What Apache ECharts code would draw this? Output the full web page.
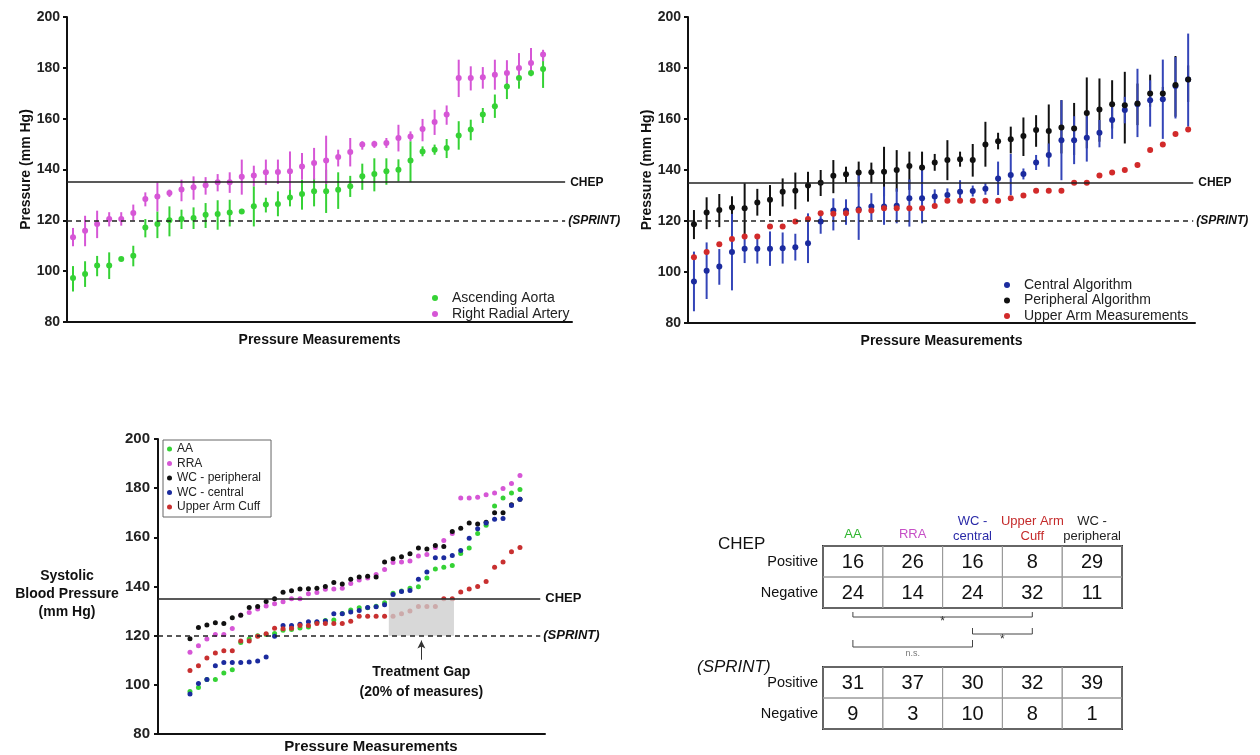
<!DOCTYPE html>
<html><head><meta charset="utf-8">
<script src="https://cdn.jsdelivr.net/npm/echarts@6/dist/echarts.min.js"></script>
<style>html,body{margin:0;padding:0;background:#fff}#c{width:1260px;height:755px}</style>
</head><body><div id="c"></div>
<script>
// ---------- data (systolic pressure, mm Hg; 40 sorted measurements) ----------
const aaMean  = [97.3,98.9,102.2,102.2,104.8,106.1,117.2,118.6,120,120.5,120.9,122.2,122.5,123.1,123.5,125.5,126.2,126.4,129,130.4,131.4,131.4,132,133.4,137.3,138.2,139.3,139.9,143.5,147.1,147.8,148.5,153.4,155.7,161.6,164.9,172.7,176,178,179.5];
const aaLow   = [92,93.8,98,96.9,104,101.9,113.3,113,113.7,116.6,116.6,117,116.3,117.6,122.5,117.6,123.1,121.6,125.5,124.2,125.5,122.9,124.5,129.2,132,131.4,134,135.3,135,145.2,145.8,144.5,147.8,151.5,158.3,160.3,167.7,171.8,176.7,172.1];
const aaHigh  = [102,103.9,106,107.4,105.6,110,120.5,123.5,125.5,124.2,125.1,126.8,127.9,128.1,124.5,133.4,128.9,131.4,132.3,136,136.7,139.9,138.9,137.5,142.3,144.4,144.4,144,151.1,149.1,149.8,152,159,159.6,164.2,169.5,177.3,179.3,179.3,185.8];

const rraMean = [113.3,115.9,118.6,120.5,120.5,122.9,128.4,129.4,130.8,132.1,133,133.8,135,135,137.1,137.6,138.9,139,139.3,141.2,142.6,143.5,144.9,146.9,149.8,150,150.4,152.4,153,155.9,158.7,161.6,176,176,176.3,177.3,178,179.9,181.9,185.2];
const rraLow  = [109.8,109.8,113,117.6,117.9,120,125.5,123.5,129.2,127.5,128.1,130.1,131.4,130.8,130.1,133.4,134,134.3,132,136,136,134.3,141.2,141.2,147.8,148.5,148.5,147.1,151.1,151.1,153.6,157.6,168.5,171.1,171.8,171.4,173.8,174.7,177.3,182.6];
const rraHigh = [117,121.8,123.8,123.2,123.2,126.2,131,134.9,132.1,136,137.3,137,138.2,138.9,143.9,141.5,143.9,143.9,147.1,146.5,148.5,153.3,147.8,152.4,151.1,151.3,152.4,157.6,155,159.9,163.5,165.2,183.2,180.6,180.3,183.2,183,185.8,187.8,187.1];

const cenMean = [96.3,100.5,102.2,107.8,109.1,109.1,109.1,109.3,109.7,111.3,119.8,124.1,124.1,124.6,125.7,125.7,126,128.9,128.9,129.6,130.2,131.5,131.8,132.6,136.7,138,138.4,142.9,145.9,151.7,151.7,152.6,154.6,159.6,163.5,165.8,167.4,167.7,172.9,175.5];
const cenLow  = [84.6,89.4,95,92.8,103.5,103.3,102.4,103.3,104.5,103.5,115,116.3,118.5,112.6,120.4,118.5,119.1,117.8,119.1,126.7,127.6,127.6,129.6,130.3,130.2,130.2,136.3,140,141.3,136,142.3,143.3,148.9,152.2,158.3,152.9,157,152.2,160.2,157];
const cenHigh = [108,111.6,109,122.8,113.9,113.9,115.9,115.5,115,123,123,128.9,128.5,138,130.9,133.5,132.8,136.3,139.9,132.4,132.8,136,133.9,134.8,143.3,146.3,140.6,145.9,150.4,167.4,161.1,161.1,159.6,164.8,168.7,179.7,175.2,183.3,184.3,193.5];

const perMean = [118.7,123.3,124.3,125.3,125,127.3,128.3,131.5,131.9,133.9,135,137.7,138.3,139,139.1,139.3,140,141.6,141,142.9,143.9,144.2,143.9,150,151.3,152.1,153.3,155.7,155.3,156.7,156.3,162.4,163.7,165.8,165.4,166.1,170,170,173.3,175.5];
const perLow  = [112.9,116.8,117.6,119.1,113.3,122.1,122,125.7,124.6,127.6,129.8,130.9,135,133.5,134.8,129.6,131.5,132.2,134.8,139.7,136,141.3,137.4,141.3,148.1,146.5,145.5,149.1,145.2,146.5,145.9,148.5,151.1,156.3,150.4,157.6,164.8,166.7,160.9,166.7];
const perHigh = [124.3,129.3,130.6,129.7,134.8,132.6,134.1,136.7,139,139.3,140,143.9,141.3,143.3,142.9,149.1,147.8,147.2,147.2,146.3,151.7,147.2,150.2,158.9,154.6,157,160.6,161.5,165.7,167.4,166.3,176.3,175.9,175.2,178.5,173.9,177.4,172.6,184.7,181];

const cuffMean = [105.8,107.8,110.9,112.9,113.9,113.9,117.8,117.8,119.8,120.8,123,122.8,123,124.1,124.1,125,125,125,125,125.9,127.9,127.9,127.9,127.9,127.9,128.9,130,131.9,131.9,131.9,135,135,137.8,139,140,142,147.8,150,154.1,155.9];

// thresholds
const chepLevel = 135;
const sprintLevel = 120;
const yTicks = [80, 200, 20]; // min, max, interval
const gapRange = [23.5, 31.2];   // measurement-index span of the treatment gap box

// tables
const tableCols = ['AA', 'RRA', 'WC -\ncentral', 'Upper Arm\nCuff', 'WC -\nperipheral'];
const tableRows = ['Positive', 'Negative'];
const chepPositive = [16, 26, 16, 8, 29];
const chepNegative = [24, 14, 24, 32, 11];
const sprintPositive = [31, 37, 30, 32, 39];
const sprintNegative = [9, 3, 10, 8, 1];
const brackets = [ {from: 0, to: 3, text: '*'}, {from: 2, to: 3, text: '*'}, {from: 0, to: 2, text: 'n.s.'} ];

// ---------- styling ----------
const FF = '"Liberation Sans", Arial, sans-serif';
const C = { aa: '#35d235', rra: '#d656d6', cen: '#1b2b9e', cenBar: '#3445b8', per: '#111111', cuff: '#d22a2a' };
const hdrColors = ['#2db52d', '#c64fc6', '#2a2aa8', '#c42a2a', '#222222'];

const pts = arr => arr.map((v, i) => [i, v]);
const bars = (lo, hi) => lo.map((v, i) => [i, v, hi[i]]);
function errBar(color) {
  return function (params, api) {
    const x = api.value(0);
    const a = api.coord([x, api.value(1)]);
    const b = api.coord([x, api.value(2)]);
    return { type: 'line', shape: { x1: a[0], y1: a[1], x2: b[0], y2: b[1] }, style: { stroke: color, lineWidth: 2 } };
  };
}
function cellRender(params, api) {
  const c = api.coord([api.value(0), api.value(1)]);
  const s = api.size([1, 1]);
  return { type: 'group', children: [
    { type: 'rect', shape: { x: c[0] - s[0] / 2, y: c[1] - s[1] / 2, width: s[0], height: s[1] }, style: { fill: null, stroke: '#9a9a9a', lineWidth: 1 } },
    { type: 'text', style: { text: String(api.value(2)), x: c[0], y: c[1] + 1, textAlign: 'center', textVerticalAlign: 'middle', fontSize: 20, fontFamily: FF, fill: '#111' } }
  ]};
}
function cells(pos, neg) {
  const d = [];
  pos.forEach((v, i) => d.push([i, 0, v]));
  neg.forEach((v, i) => d.push([i, 1, v]));
  return d;
}

function refLines(xMin, xEnd, fs) {
  return {
    silent: true, symbol: 'none', animation: false,
    data: [
      [{ coord: [xMin, chepLevel], lineStyle: { color: '#222', width: 1.5, type: 'solid' },
         label: { show: true, position: 'end', formatter: 'CHEP', fontWeight: 'bold', fontSize: fs, color: '#111', fontFamily: FF, distance: 5 } },
       { coord: [xEnd, chepLevel] }],
      [{ coord: [xMin, sprintLevel], lineStyle: { color: '#222', width: 1.5, type: [5, 4] },
         label: { show: true, position: 'end', formatter: '(SPRINT)', fontWeight: 'bold', fontStyle: 'italic', fontSize: fs, color: '#111', fontFamily: FF, distance: 3 } },
       { coord: [xEnd, sprintLevel] }]
    ]
  };
}

function yAx(gi, fs, margin, withName) {
  const o = {
    type: 'value', gridIndex: gi, min: yTicks[0], max: yTicks[1], interval: yTicks[2],
    splitLine: { show: false },
    axisLine: { show: true, onZero: false, lineStyle: { color: '#111', width: 2 } },
    axisTick: { show: true, length: 4, lineStyle: { color: '#111', width: 2 } },
    axisLabel: { fontWeight: 'bold', fontSize: fs, color: '#222', fontFamily: FF, margin: margin }
  };
  if (withName) {
    o.name = 'Pressure (mm Hg)'; o.nameLocation = 'middle'; o.nameGap = 34;
    o.nameTextStyle = { fontWeight: 'bold', fontSize: 14, color: '#111', fontFamily: FF };
  }
  return o;
}
function xAx(gi, min, max, name) {
  return {
    type: 'value', gridIndex: gi, min: min, max: max,
    splitLine: { show: false }, axisTick: { show: false }, axisLabel: { show: false },
    axisLine: { show: true, onZero: false, lineStyle: { color: '#111', width: 2 } },
    name: name, nameLocation: 'middle', nameGap: 11,
    nameTextStyle: { fontWeight: 'bold', fontSize: 14, color: '#111', fontFamily: FF, verticalAlign: 'top' }
  };
}

const chart = echarts.init(document.getElementById('c'), null, { renderer: 'canvas' });

const option = {
  backgroundColor: '#fff',
  animation: false,
  textStyle: { fontFamily: FF },
  grid: [
    { left: 67, top: 17, width: 505, height: 305 },
    { left: 688, top: 17, width: 507, height: 306 },
    { left: 158, top: 439, width: 387, height: 295 },
    { left: 823, top: 546, width: 299, height: 62, show: true, borderColor: '#333', borderWidth: 2 },
    { left: 823, top: 667, width: 299, height: 62, show: true, borderColor: '#333', borderWidth: 2 }
  ],
  xAxis: [
    xAx(0, -0.5, 41.4, 'Pressure Measurements'),
    xAx(1, -0.47, 39.54, 'Pressure Measurements'),
    xAx(2, -3.78, 41.96, ''),
    { type: 'category', gridIndex: 3, position: 'top', data: tableCols,
      axisLine: { show: false }, axisTick: { show: false }, splitLine: { show: false },
      axisLabel: { margin: 2, interval: 0,
        formatter: (v, i) => v.split('\n').map(s => '{h' + i + '|' + s + '}').join('\n'),
        rich: {
          h0: { color: hdrColors[0], fontSize: 13, lineHeight: 15, fontFamily: FF, padding: [0, 0, 4, 0] },
          h1: { color: hdrColors[1], fontSize: 13, lineHeight: 15, fontFamily: FF, padding: [0, 0, 4, 0] },
          h2: { color: hdrColors[2], fontSize: 13, lineHeight: 15, fontFamily: FF },
          h3: { color: hdrColors[3], fontSize: 13, lineHeight: 15, fontFamily: FF },
          h4: { color: hdrColors[4], fontSize: 13, lineHeight: 15, fontFamily: FF }
        } } },
    { type: 'category', gridIndex: 4, data: tableCols, show: false }
  ],
  yAxis: [
    yAx(0, 14, 7, true),
    yAx(1, 14, 7, true),
    yAx(2, 15, 8, false),
    { type: 'category', gridIndex: 3, data: tableRows, inverse: true,
      axisLine: { show: false }, axisTick: { show: false }, splitLine: { show: false },
      axisLabel: { fontSize: 14.5, color: '#111', fontFamily: FF, margin: 5 } },
    { type: 'category', gridIndex: 4, data: tableRows, inverse: true,
      axisLine: { show: false }, axisTick: { show: false }, splitLine: { show: false },
      axisLabel: { fontSize: 14.5, color: '#111', fontFamily: FF, margin: 5 } }
  ],
  legend: [
    { orient: 'vertical', left: 427, top: 286, itemGap: 2, itemWidth: 24, itemHeight: 6, icon: 'circle',
      textStyle: { fontSize: 14, color: '#222', fontFamily: FF }, data: ['Ascending Aorta', 'Right Radial Artery'] },
    { orient: 'vertical', left: 999, top: 273, itemGap: 1.5, itemWidth: 24, itemHeight: 6, icon: 'circle',
      textStyle: { fontSize: 14, color: '#222', fontFamily: FF }, data: ['Central Algorithm', 'Peripheral Algorithm', 'Upper Arm Measurements'] },
    { orient: 'vertical', left: 163, top: 440, itemGap: 2.5, itemWidth: 5, itemHeight: 5, icon: 'circle',
      padding: [3, 10, 4, 4], borderColor: '#666', borderWidth: 1,
      textStyle: { fontSize: 12, color: '#222', fontFamily: FF }, data: ['AA', 'RRA', 'WC - peripheral', 'WC - central', 'Upper Arm Cuff'] }
  ],
  series: [
    // ---- top-left ----
    { type: 'custom', name: 'aaErr', xAxisIndex: 0, yAxisIndex: 0, renderItem: errBar(C.aa), data: bars(aaLow, aaHigh), encode: { x: 0, y: [1, 2] }, silent: true, z: 1 },
    { type: 'custom', name: 'rraErr', xAxisIndex: 0, yAxisIndex: 0, renderItem: errBar(C.rra), data: bars(rraLow, rraHigh), encode: { x: 0, y: [1, 2] }, silent: true, z: 1 },
    { type: 'scatter', name: 'Ascending Aorta', xAxisIndex: 0, yAxisIndex: 0, symbolSize: 6, itemStyle: { color: C.aa, opacity: 1 }, data: pts(aaMean),
      markLine: refLines(-0.5, 40.83, 12) },
    { type: 'scatter', name: 'Right Radial Artery', xAxisIndex: 0, yAxisIndex: 0, symbolSize: 6, itemStyle: { color: C.rra, opacity: 1 }, data: pts(rraMean) },
    // ---- top-right ----
    { type: 'custom', name: 'perErr', xAxisIndex: 1, yAxisIndex: 1, renderItem: errBar(C.per), data: bars(perLow, perHigh), encode: { x: 0, y: [1, 2] }, silent: true, z: 1 },
    { type: 'custom', name: 'cenErr', xAxisIndex: 1, yAxisIndex: 1, renderItem: errBar(C.cenBar), data: bars(cenLow, cenHigh), encode: { x: 0, y: [1, 2] }, silent: true, z: 1 },
    { type: 'scatter', name: 'Central Algorithm', xAxisIndex: 1, yAxisIndex: 1, symbolSize: 6, itemStyle: { color: C.cen, opacity: 1 }, data: pts(cenMean) },
    { type: 'scatter', name: 'Peripheral Algorithm', xAxisIndex: 1, yAxisIndex: 1, symbolSize: 6, itemStyle: { color: C.per, opacity: 1 }, data: pts(perMean) },
    { type: 'scatter', name: 'Upper Arm Measurements', xAxisIndex: 1, yAxisIndex: 1, symbolSize: 6, itemStyle: { color: C.cuff, opacity: 1 }, data: pts(cuffMean),
      markLine: refLines(-0.47, 39.4, 12) },
    // ---- bottom-left combined ----
    { type: 'scatter', name: 'AA', xAxisIndex: 2, yAxisIndex: 2, symbolSize: 5, itemStyle: { color: C.aa, opacity: 1 }, data: pts(aaMean) },
    { type: 'scatter', name: 'RRA', xAxisIndex: 2, yAxisIndex: 2, symbolSize: 5, itemStyle: { color: C.rra, opacity: 1 }, data: pts(rraMean) },
    { type: 'scatter', name: 'WC - peripheral', xAxisIndex: 2, yAxisIndex: 2, symbolSize: 5, itemStyle: { color: C.per, opacity: 1 }, data: pts(perMean) },
    { type: 'scatter', name: 'WC - central', xAxisIndex: 2, yAxisIndex: 2, symbolSize: 5, itemStyle: { color: C.cen, opacity: 1 }, data: pts(cenMean),
      markLine: { silent: true, animation: false, symbol: ['arrow', 'none'], symbolSize: [6, 8],
        lineStyle: { color: '#333', width: 1, type: 'solid' },
        label: { show: true, position: 'end', distance: 2, formatter: 'Treatment Gap\n(20% of measures)', fontWeight: 'bold', fontSize: 14, lineHeight: 20, color: '#111', fontFamily: FF },
        data: [[{ coord: [(gapRange[0] + gapRange[1]) / 2, sprintLevel - 2] }, { coord: [(gapRange[0] + gapRange[1]) / 2, sprintLevel - 9.8] }]] } },
    { type: 'scatter', name: 'Upper Arm Cuff', xAxisIndex: 2, yAxisIndex: 2, symbolSize: 5, itemStyle: { color: '#c83030', opacity: 1 }, data: pts(cuffMean),
      markLine: refLines(-3.78, 41.4, 13) },
    { type: 'custom', name: 'gap', xAxisIndex: 2, yAxisIndex: 2, silent: true, z: 3,
      data: [[gapRange[0], gapRange[1], sprintLevel, chepLevel]], encode: { x: [0, 1], y: [2, 3] },
      renderItem: function (params, api) {
        const p0 = api.coord([api.value(0), api.value(3)]);
        const p1 = api.coord([api.value(1), api.value(2)]);
        return { type: 'rect', shape: { x: p0[0], y: p0[1], width: p1[0] - p0[0], height: p1[1] - p0[1] }, style: { fill: 'rgba(205,205,205,0.78)' } };
      } },
    // ---- tables ----
    { type: 'custom', name: 'chepTable', xAxisIndex: 3, yAxisIndex: 3, renderItem: cellRender, data: cells(chepPositive, chepNegative), silent: true },
    { type: 'custom', name: 'sprintTable', xAxisIndex: 4, yAxisIndex: 4, renderItem: cellRender, data: cells(sprintPositive, sprintNegative), silent: true }
  ]
};
chart.setOption(option);

// ---------- annotations positioned from the library's coordinate system ----------
const colX = i => chart.convertToPixel({ gridIndex: 3 }, [i, 0])[0];
const bracketY = [[612, 617, 622, 12, '#333'], [628, 634, 640, 12, '#333'], [640, 647, 654, 9, '#777']];
const g = [];
brackets.forEach((b, k) => {
  const x1 = colX(b.from), x2 = colX(b.to);
  const [yt, yb, ty, fs, col] = bracketY[k];
  g.push({ type: 'polyline', shape: { points: [[x1, yt], [x1, yb], [x2, yb], [x2, yt]] }, style: { stroke: '#444', lineWidth: 1, fill: null } });
  g.push({ type: 'text', x: (x1 + x2) / 2, y: ty, style: { text: b.text, fontSize: fs, fill: col, fontFamily: FF, textAlign: 'center', textVerticalAlign: 'middle' } });
});
g.push({ type: 'text', left: 718, top: 536, style: { text: 'CHEP', fontSize: 17, fill: '#111', fontFamily: FF } });
g.push({ type: 'text', left: 697, top: 659, style: { text: '(SPRINT)', fontSize: 17, fontStyle: 'italic', fill: '#111', fontFamily: FF } });
g.push({ type: 'text', x: 67, y: 594, style: { text: 'Systolic\nBlood Pressure\n(mm Hg)', fontSize: 14, fontWeight: 'bold', lineHeight: 18, fill: '#111', fontFamily: FF, textAlign: 'center', textVerticalAlign: 'middle' } });
g.push({ type: 'text', x: 371, y: 747, style: { text: 'Pressure Measurements', fontSize: 15, fontWeight: 'bold', fill: '#111', fontFamily: FF, textAlign: 'center', textVerticalAlign: 'middle' } });
chart.setOption({ graphic: g });
</script>
</body></html>
